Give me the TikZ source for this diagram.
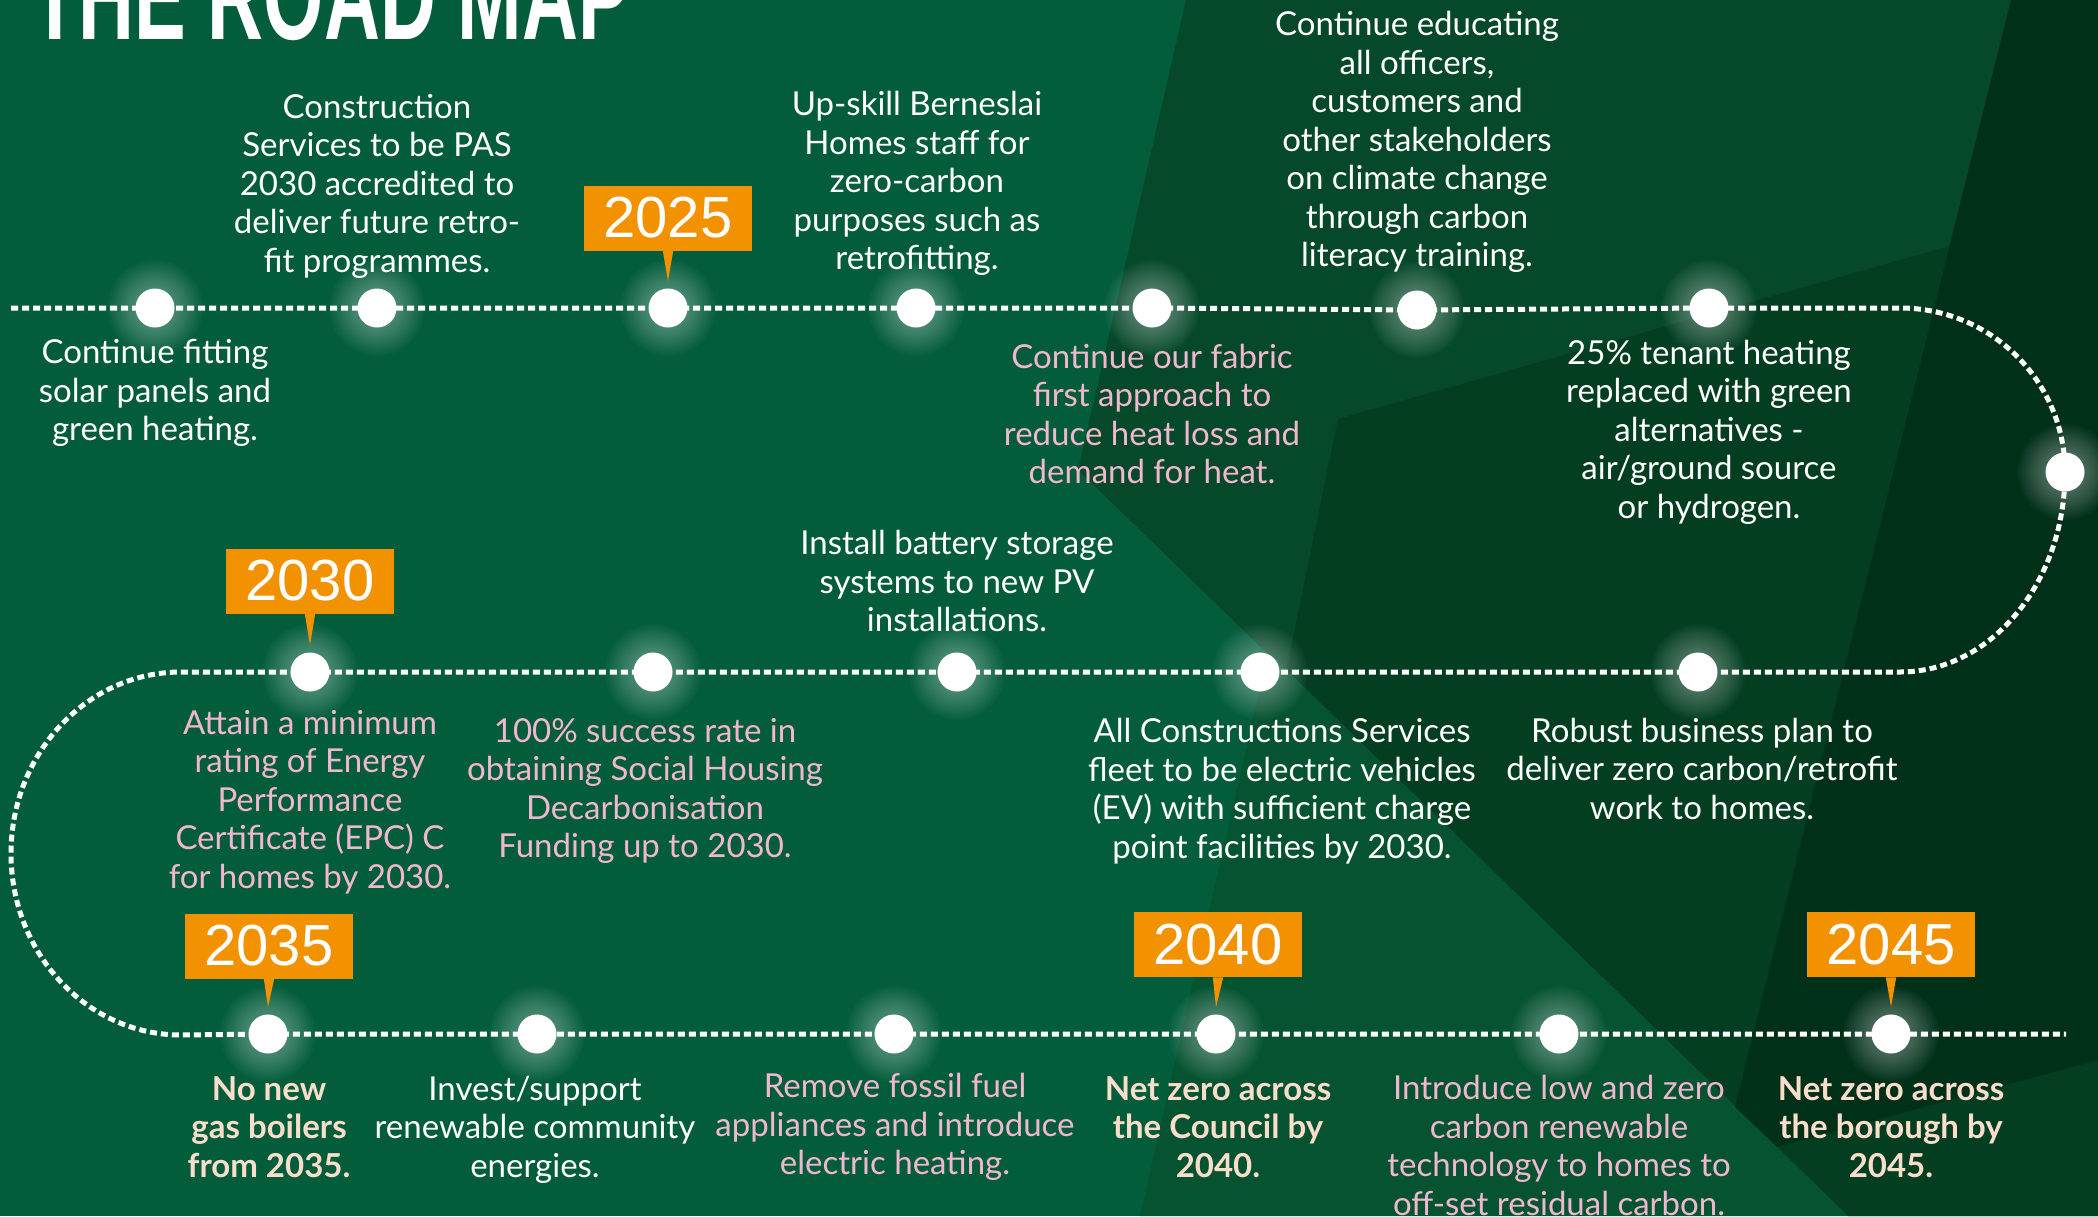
\documentclass[tikz,border=0pt]{standalone}
\usepackage{fontspec}
\setmainfont{Lato}
\newfontfamily\yearfont{Liberation Sans}
\usetikzlibrary{calc}
\definecolor{bgbase}{RGB}{3,93,59}
\definecolor{bgmid}{RGB}{6,72,42}
\definecolor{bgdark}{RGB}{3,62,33}
\definecolor{bgdarkest}{RGB}{1,48,25}
\definecolor{bgtri}{RGB}{5,83,49}
\definecolor{yearorange}{RGB}{242,146,0}
\definecolor{pinktext}{RGB}{242,183,208}
\definecolor{creamtext}{RGB}{250,222,203}
\tikzset{
  body/.style={font=\fontsize{16.5pt}{19.25pt}\selectfont, text=white, align=center, inner sep=0pt},
  pinkbody/.style={body, text=pinktext},
  boldbody/.style={body, text=creamtext, font=\fontsize{16.5pt}{19.25pt}\selectfont\bfseries},
  road/.style={draw=white, line width=2.5pt, dash pattern=on 3.5pt off 2pt},
  dot/.style={circle, fill=white, minimum size=19.5pt, inner sep=0pt},
  yearbox/.style={fill=yearorange, text=white, font=\yearfont\fontsize{29pt}{29pt}\selectfont, minimum width=84pt, minimum height=32.5pt, inner sep=0pt},
  tail/.style={fill=yearorange},
  glow/.style={fill=white, opacity=0.022},
}
\begin{document}
\begin{tikzpicture}[x=0.5pt,y=-0.5pt]
\useasboundingbox (0,0) rectangle (2098,1216);
\clip (0,0) rectangle (2098,1216);
% background
\fill[bgbase] (0,0) rectangle (2098,1216);
\fill[bgmid] (1186,0) -- (2098,0) -- (2098,1216) -- (1848,1216) -- (1078,470) -- cycle;
\fill[bgdark] (1338,419) -- (2098,204) -- (2098,1216) -- (1848,1216) -- (1286,672) -- cycle;
\fill[bgtri] (1268,652) -- (1848,1216) -- (1140,1216) -- cycle;
\fill[bgdarkest] (2011,0) -- (2098,0) -- (2098,1060) -- (1777,1147) -- (1735,1107) -- cycle;

% title
\node[anchor=base west, inner sep=0pt, text=white] (title) at (31,39)
  {\scalebox{0.615}[1]{\yearfont\bfseries\fontsize{63pt}{63pt}\selectfont THE ROAD MAP}};

% dot positions
\coordinate (a1) at (155,308);
\coordinate (a2) at (377,308);
\coordinate (a3) at (668,308);
\coordinate (a4) at (916,308);
\coordinate (a5) at (1152,308);
\coordinate (a6) at (1417,310);
\coordinate (a7) at (1709,308);
\coordinate (t1) at (2065,472);
\coordinate (b1) at (1698,672);
\coordinate (b2) at (1260,672);
\coordinate (b3) at (957,672);
\coordinate (b4) at (653,672);
\coordinate (b5) at (310,672);
\coordinate (c1) at (268,1034);
\coordinate (c2) at (537,1034);
\coordinate (c3) at (894,1034);
\coordinate (c4) at (1216,1034);
\coordinate (c5) at (1559,1034);
\coordinate (c6) at (1891,1034);
% path ends
\coordinate (s1) at (11,308);
\coordinate (r1e) at (1900,308);
\coordinate (l2s) at (181,672);
\coordinate (e3) at (2066,1034);

% glows
\foreach \p in {a1,a2,a3,a4,a5,a6,a7,t1,b1,b2,b3,b4,b5,c1,c2,c3,c4,c5,c6}{
  \foreach \r in {24,23,...,10}{
    \fill[glow] (\p) circle[radius=\r pt];
  }
}

% road
\draw[road] (s1) -- (a1) -- (a2) -- (a3) -- (a4) -- (a5) -- (a6) -- (a7) -- (r1e)
  arc[start angle=90, end angle=0, x radius=82.5pt, y radius=82pt]
  arc[start angle=0, end angle=-90, x radius=82.5pt, y radius=100pt]
  -- (b1) -- (b2) -- (b3) -- (b4) -- (b5) -- (l2s)
  arc[start angle=90, end angle=270, x radius=85pt, y radius=90.75pt]
  -- (c1) -- (c2) -- (c3) -- (c4) -- (c5) -- (c6) -- (e3);

% dots
\foreach \p in {a1,a2,a3,a4,a5,a6,a7,t1,b1,b2,b3,b4,b5,c1,c2,c3,c4,c5,c6}{
  \node[dot] (n\p) at (\p) {};
}

% year boxes
\node[yearbox] (y25) at (668,218) {2025};
\node[yearbox] (y30) at (310,581) {2030};
\node[yearbox] (y35) at (269,946) {2035};
\node[yearbox] (y40) at (1218,944.5) {2040};
\node[yearbox] (y45) at (1891,944.5) {2045};
\coordinate (tip25) at ($(a3)+(0,-27)$);
\coordinate (tip30) at ($(b5)+(0,-27)$);
\coordinate (tip35) at ($(c1)+(0,-27)$);
\coordinate (tip40) at ($(c4)+(0,-27)$);
\coordinate (tip45) at ($(c6)+(0,-27)$);
\foreach \y/\t in {y25/tip25,y30/tip30,y35/tip35,y40/tip40,y45/tip45}{
  \fill[tail] ([xshift=-2.6pt]\y.south) -- ([xshift=2.6pt]\y.south) -- (\t) -- cycle;
}

% texts row 1 above
\node[body] (tcons) at (377,186) {Construction\\Services to be PAS\\2030 accredited to\\deliver future retro-\\fit programmes.};
\node[body] (tupskill) at (917,183.5) {Up-skill Berneslai\\Homes staff for\\zero-carbon\\purposes such as\\retrofitting.};
\node[body] (teduc) at (1417,142) {Continue educating\\all officers,\\customers and\\other stakeholders\\on climate change\\through carbon\\literacy training.};
% row 1 below
\node[body] (tsolar) at (155,393) {Continue fitting\\solar panels and\\green heating.};
\node[pinkbody] (tfabric) at (1152,414) {Continue our fabric\\first approach to\\reduce heat loss and\\demand for heat.};
\node[body] (ttenant) at (1709,432) {25\% tenant heating\\replaced with green\\alternatives -\\air/ground source\\or hydrogen.};
\node[body] (tbattery) at (957,581) {Install battery storage\\systems to new PV\\installations.};
% row 2 below
\node[pinkbody] (tattain) at (310,802) {Attain a minimum\\rating of Energy\\Performance\\Certificate (EPC) C\\for homes by 2030.};
\node[pinkbody] (tsuccess) at (645,791) {100\% success rate in\\obtaining Social Housing\\Decarbonisation\\Funding up to 2030.};
\node[body] (tfleet) at (1282,791) {All Constructions Services\\fleet to be electric vehicles\\(EV) with sufficient charge\\point facilities by 2030.};
\node[body] (trobust) at (1702,768.5) {Robust business plan to\\deliver zero carbon/retrofit\\work to homes.};
% row 3 below
\node[boldbody] (tnonew) at (269,1127) {No new\\gas boilers\\from 2035.};
\node[body] (tinvest) at (535,1129.5) {Invest/support\\renewable community\\energies.};
\node[pinkbody] (tremove) at (895,1127) {Remove fossil fuel\\appliances and introduce\\electric heating.};
\node[boldbody] (tcouncil) at (1218,1127) {Net zero across\\the Council by\\2040.};
\node[pinkbody] (tintro) at (1559,1145.5) {Introduce low and zero\\carbon renewable\\technology to homes to\\off-set residual carbon.};
\node[boldbody] (tborough) at (1891,1127) {Net zero across\\the borough by\\2045.};
\end{tikzpicture}
\end{document}
